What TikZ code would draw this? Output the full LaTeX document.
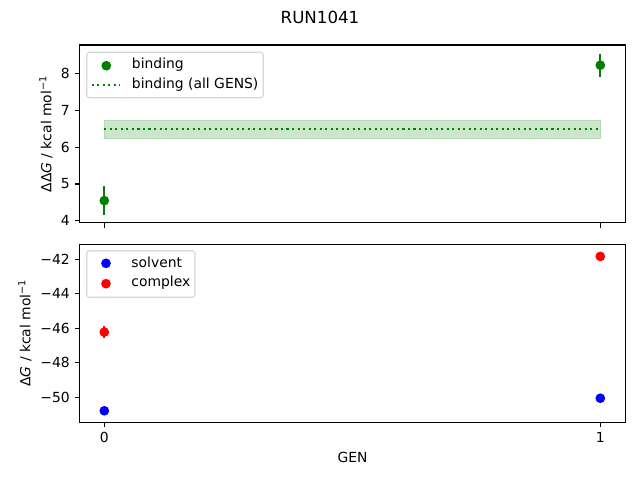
\documentclass[tikz,border=0pt]{standalone}
\usepackage{fontspec}
\setmainfont{DejaVu Sans}
\begin{document}
\begin{tikzpicture}[x=0.72pt,y=-0.72pt,
  axframe/.style={draw=black,line width=0.8pt},
  tickmark/.style={line width=0.8pt},
  ticklab/.style={font=\fontsize{10}{12}\selectfont,inner sep=0pt},
  dotmark/.style={circle,inner sep=0pt,minimum size=7pt},
  errbar/.style={line width=1.5pt},
  legbox/.style={draw=black!20,fill=white,fill opacity=0.8,draw opacity=0.8,rounded corners=2pt,line width=0.8pt},
  legtext/.style={font=\fontsize{10}{12}\selectfont,anchor=west,inner sep=0pt}
]
\definecolor{mgreen}{RGB}{0,128,0}
\definecolor{bandfill}{RGB}{204,230,204}
\definecolor{bandedge}{RGB}{180,220,180}
\useasboundingbox (0,0) rectangle (640,480);
\fill[white] (0,0) rectangle (640,480);
% title
\node[font=\fontsize{12}{14}\selectfont] (title) at (320,17) {RUN1041};

% ---------- top axes ----------
\fill[bandfill,draw=bandedge,line width=0.5pt] (104.3,120.2) rectangle (600.3,138.7);
\draw[mgreen,line width=1.5pt,dash pattern=on 1.5pt off 2.475pt] (104.3,129.4) -- (600.3,129.4);
% error bars + points
\draw[mgreen,errbar] (104.3,185.8) -- (104.3,215.4);
\node[dotmark,fill=mgreen] (b0) at (104.3,200.6) {};
\draw[mgreen,errbar] (600.3,53.8) -- (600.3,76.6);
\node[dotmark,fill=mgreen] (b1) at (600.3,65.2) {};
% frame
\draw[axframe] (79.5,45) rectangle (625.7,222.7);
% y ticks
\foreach \v/\yy in {4/220.9,5/184.0,6/147.1,7/110.2,8/73.3}{
  \draw[tickmark] (79.5,\yy) -- (74.6,\yy);
  \node[ticklab,anchor=east] at (70,\yy) {\v};
}
% x ticks (no labels)
\draw[tickmark] (104.3,222.7) -- (104.3,227.6);
\draw[tickmark] (600.3,222.7) -- (600.3,227.6);
% y label
\node[ticklab,rotate=90] (ylabtop) at (46,134) {ΔΔ\textit{G} / kcal mol\textsuperscript{−1}};
% legend
\draw[legbox] (86.7,52.3) rectangle (263.3,97.7);
\node[dotmark,fill=mgreen] (legb) at (106.3,65.7) {};
\node[legtext] (legbt) at (131.7,64.5) {binding};
\draw[mgreen,line width=1.5pt,dash pattern=on 1.5pt off 2.475pt] (91.7,85.2) -- (120.3,85.2);
\node[legtext] (legat) at (131.7,84.5) {binding (all GENS)};

% ---------- bottom axes ----------
\draw[red,errbar] (104.3,326.2) -- (104.3,338.0);
\node[dotmark,fill=red] (c0) at (104.3,332.1) {};
\node[dotmark,fill=red] (c1) at (600.3,256.4) {};
\node[dotmark,fill=blue] (s0) at (104.3,410.8) {};
\node[dotmark,fill=blue] (s1) at (600.3,398.2) {};
\draw[axframe] (79.5,244.5) rectangle (625.7,422.2);
\foreach \v/\yy in {42/259.3,44/293.8,46/328.3,48/362.8,50/397.3}{
  \draw[tickmark] (79.5,\yy) -- (74.6,\yy);
  \node[ticklab,anchor=east] at (70,\yy) {−\v};
}
\draw[tickmark] (104.3,422.2) -- (104.3,427.1);
\draw[tickmark] (600.3,422.2) -- (600.3,427.1);
\node[ticklab] (x0) at (104.3,437.5) {0};
\node[ticklab] (x1) at (600.3,437.5) {1};
\node[ticklab] (xlab) at (352.6,457.5) {GEN};
\node[ticklab,rotate=90] (ylabbot) at (25,333) {Δ\textit{G} / kcal mol\textsuperscript{−1}};
% legend
\draw[legbox] (86.7,250.7) rectangle (195,297.3);
\node[dotmark,fill=blue] (legs) at (106,263.3) {};
\node[legtext] (legst) at (131.2,262.5) {solvent};
\node[dotmark,fill=red] (legc) at (106,283.7) {};
\node[legtext] (legct) at (131.2,283) {complex};
\end{tikzpicture}
\end{document}
